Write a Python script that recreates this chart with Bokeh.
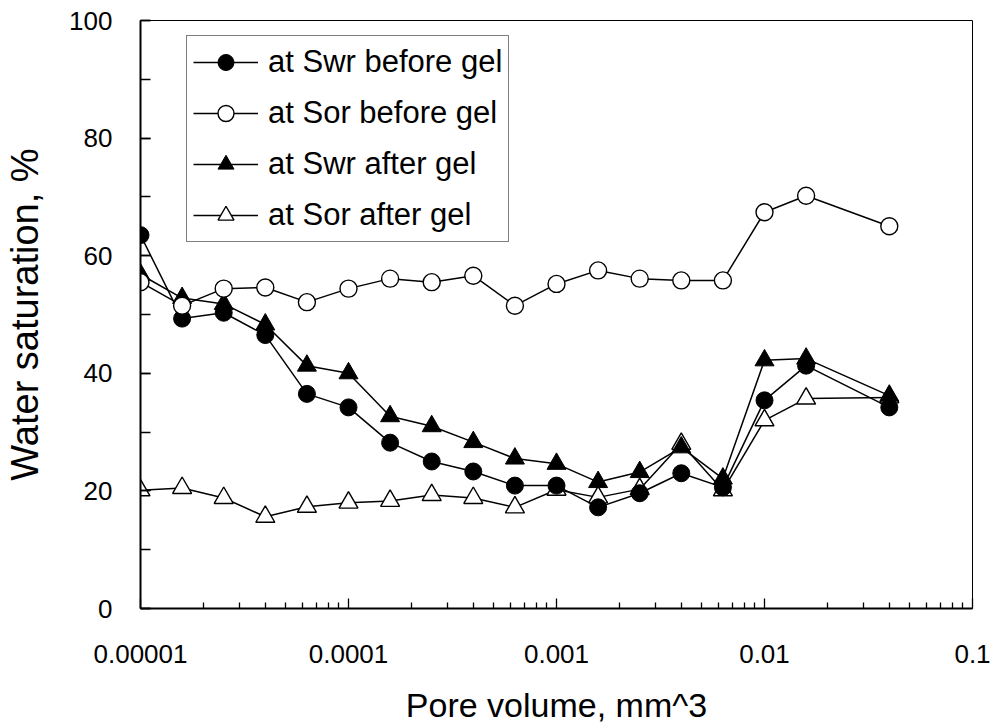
from bokeh.plotting import figure
from bokeh.models import (FixedTicker, SingleIntervalTicker, CustomJSTickFormatter,
                          Legend, LegendItem, Range1d)
from bokeh.embed import file_html
from bokeh.resources import INLINE

# ---- data ----
pore_volume = [1e-5, 1.585e-5, 2.512e-5, 3.981e-5, 6.31e-5,
               1e-4, 1.585e-4, 2.512e-4, 3.981e-4, 6.31e-4,
               1e-3, 1.585e-3, 2.512e-3, 3.981e-3, 6.31e-3,
               1e-2, 1.585e-2, 3.981e-2]
swr_before = [63.5, 49.3, 50.3, 46.5, 36.5, 34.2, 28.2, 25.0, 23.3, 20.9,
              20.9, 17.2, 19.6, 23.0, 20.6, 35.4, 41.3, 34.2]
sor_before = [55.5, 51.5, 54.4, 54.6, 52.1, 54.4, 56.1, 55.5, 56.6, 51.5,
              55.2, 57.5, 56.1, 55.8, 55.8, 67.4, 70.2, 65.0]
swr_after = [56.8, 52.8, 51.8, 48.3, 41.3, 40.0, 32.7, 31.0, 28.3, 25.5,
             24.6, 21.5, 23.2, 27.4, 22.1, 42.2, 42.5, 36.2]
sor_after = [20.1, 20.5, 18.8, 15.6, 17.3, 18.0, 18.3, 19.3, 18.8, 17.2,
             20.2, 18.9, 20.3, 28.0, 20.1, 32.0, 35.7, 35.9]

series_labels = ["at Swr before gel", "at Sor before gel",
                 "at Swr after gel", "at Sor after gel"]
x_major_ticks = [1e-5, 1e-4, 1e-3, 1e-2, 1e-1]
x_tick_labels = ["0.00001", "0.0001", "0.001", "0.01", "0.1"]
x_minor_ticks = [m * d for d in x_major_ticks[:-1] for m in range(2, 10)]

FONT = "Liberation Sans"

p = figure(width=993, height=728, x_axis_type="log",
           x_range=Range1d(1e-5, 0.1), y_range=Range1d(0, 100),
           output_backend="svg", toolbar_location=None, title=None,
           min_border_left=140, min_border_right=21,
           min_border_top=20, min_border_bottom=120)

p.background_fill_color = "white"
p.border_fill_color = "white"
p.outline_line_color = "black"
p.outline_line_width = 1
p.xgrid.visible = False
p.ygrid.visible = False

# x axis
xa = p.xaxis[0]
xa.ticker = FixedTicker(ticks=x_major_ticks, minor_ticks=x_minor_ticks)
xa.formatter = CustomJSTickFormatter(args=dict(labels=x_tick_labels),
                                     code="const i = Math.round(Math.log10(tick)) + 5; return labels[i];")
xa.axis_label = "Pore volume, mm^3"

# y axis
ya = p.yaxis[0]
ya.ticker = SingleIntervalTicker(interval=20, num_minor_ticks=2)
ya.axis_label = "Water saturation, %"

for ax in (xa, ya):
    ax.axis_line_color = "black"
    ax.axis_line_width = 2
    ax.major_tick_line_color = "black"
    ax.minor_tick_line_color = "black"
    ax.major_tick_line_width = 1.3
    ax.minor_tick_line_width = 1.3
    ax.major_tick_out = 0
    ax.minor_tick_out = 0
    ax.major_label_text_font = FONT
    ax.major_label_text_font_size = "26px"
    ax.major_label_text_color = "black"
    ax.axis_label_text_font = FONT
    ax.axis_label_text_font_style = "normal"
    ax.axis_label_text_color = "black"

xa.axis_label_text_font_size = "34px"
ya.axis_label_text_font_size = "38px"
xa.major_tick_in = 10
xa.minor_tick_in = 6
xa.major_label_standoff = 36
xa.axis_label_standoff = 20
ya.major_tick_in = 10
ya.minor_tick_in = 10
ya.major_label_standoff = 28
ya.axis_label_standoff = 20

LW = 1.5
# draw order: Sor after, Swr before, Swr after, Sor before
l4 = p.line(pore_volume, sor_after, line_color="black", line_width=LW)
m4 = p.scatter(pore_volume, sor_after, marker="triangle", size=19,
               fill_color="white", line_color="black", line_width=1.4)
l1 = p.line(pore_volume, swr_before, line_color="black", line_width=LW)
m1 = p.scatter(pore_volume, swr_before, marker="circle", size=17,
               fill_color="black", line_color="black", line_width=1)
l3 = p.line(pore_volume, swr_after, line_color="black", line_width=LW)
m3 = p.scatter(pore_volume, swr_after, marker="triangle", size=19,
               fill_color="black", line_color="black", line_width=1)
l2 = p.line(pore_volume, sor_before, line_color="black", line_width=LW)
m2 = p.scatter(pore_volume, sor_before, marker="circle", size=17,
               fill_color="white", line_color="black", line_width=1.4)

legend = Legend(items=[
    LegendItem(label=series_labels[0], renderers=[l1, m1]),
    LegendItem(label=series_labels[1], renderers=[l2, m2]),
    LegendItem(label=series_labels[2], renderers=[l3, m3]),
    LegendItem(label=series_labels[3], renderers=[l4, m4]),
], location=(46, 366), padding=6, margin=0, glyph_width=65, glyph_height=40,
    label_standoff=10, spacing=11, label_text_font=FONT,
    label_text_font_size="31px", label_text_color="black",
    border_line_color="black", border_line_width=1.2,
    background_fill_color="white", background_fill_alpha=1.0)
p.add_layout(legend)

open("out.html", "w").write(file_html(p, INLINE))
